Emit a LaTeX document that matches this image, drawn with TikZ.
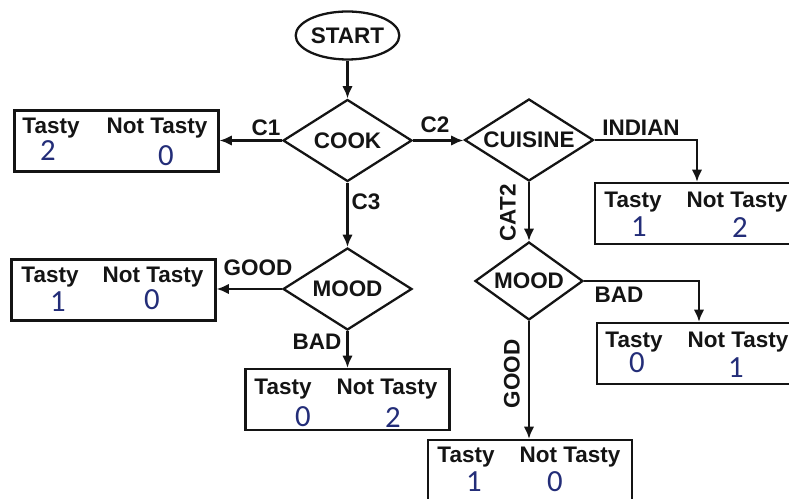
\documentclass[tikz,border=0pt]{standalone}
\usepackage{fontspec}
\setmainfont{Liberation Sans}
\newfontfamily\numfont{Carlito}
\usetikzlibrary{shapes.geometric,arrows.meta,positioning}

\definecolor{ink}{RGB}{20,20,20}
\definecolor{numblue}{RGB}{35,45,120}

\tikzset{
    decision/.style={draw=ink, diamond, line width=1.3pt, inner sep=0pt, aspect=1.57,
        minimum width=2.58cm, minimum height=1.64cm,
        font=\fontsize{12.8}{14}\selectfont\bfseries, text=ink},
    terminal/.style={draw=ink, ellipse, line width=1.3pt, inner sep=0pt,
        minimum width=2.02cm, minimum height=0.96cm,
        font=\fontsize{12.8}{14}\selectfont\bfseries, text=ink},
    tally/.style={draw=ink, rectangle, line width=1.3pt, inner sep=0pt,
        minimum width=4.08cm, minimum height=1.22cm},
    head/.style={inner sep=0pt, font=\fontsize{12.8}{14}\selectfont\bfseries, text=ink},
    count/.style={inner sep=0pt, font=\numfont\fontsize{17.5}{20}\selectfont, text=numblue},
    flow/.style={draw=ink, line width=1.3pt, -{Latex[length=7pt,width=6pt]}}
}

\begin{document}
\begin{tikzpicture}[x=0.02cm, y=-0.02cm]
        \useasboundingbox (0,0) rectangle (789,499);
        \clip (0,0) rectangle (789,499);

        % decisions
        \node[terminal] (start) at (347.5,35.5) {START};
        \node[decision] (cook) at (347.5,140.5) {COOK};
        \node[decision] (cuisine) at (529,140) {CUISINE};
        \node[decision] (mood1) at (347.5,289) {MOOD};
        \node[decision, minimum width=2.16cm, minimum height=1.56cm] (mood2) at (529,281) {MOOD};

        % result boxes
        \node[tally] (tally1) at (116.5,141) {};
        \node[tally] (tally2) at (113.5,290) {};
        \node[tally] (tally3) at (347.5,399.5) {};
        \node[tally] (tally4) at (697,213.5) {};
        \node[tally] (tally5) at (699,353.5) {};
        \node[tally] (tally6) at (530,470.5) {};

        \node[head] (t1) at (51,128) {Tasty};
        \node[head] (n1) at (157,128) {Not Tasty};
        \node[count] (t1v) at (48,151) {2};
        \node[count] (n1v) at (166,156) {0};

        \node[head] (t2) at (50,277) {Tasty};
        \node[head] (n2) at (153,277) {Not Tasty};
        \node[count] (t2v) at (58,302) {1};
        \node[count] (n2v) at (152,300) {0};

        \node[head] (t3) at (283,389) {Tasty};
        \node[head] (n3) at (387,389) {Not Tasty};
        \node[count] (t3v) at (303,417) {0};
        \node[count] (n3v) at (393,418) {2};

        \node[head] (t4) at (633,202) {Tasty};
        \node[head] (n4) at (737,202) {Not Tasty};
        \node[count] (t4v) at (639,227) {1};
        \node[count] (n4v) at (740,228) {2};

        \node[head] (t5) at (634,342) {Tasty};
        \node[head] (n5) at (738,342) {Not Tasty};
        \node[count] (t5v) at (637,363) {0};
        \node[count] (n5v) at (736,368) {1};

        \node[head] (t6) at (466,457) {Tasty};
        \node[head] (n6) at (570,457) {Not Tasty};
        \node[count] (t6v) at (474,482) {1};
        \node[count] (n6v) at (555,482) {0};

        % branches
        \draw[flow] (start) -- (cook);
        \draw[flow] (cook.west) -- (cook.west -| tally1.east);
        \draw[flow] (cook.east) -- (cook.east -| cuisine.west);
        \draw[flow] (cuisine.east) -| (tally4.north);
        \draw[flow] (cook.south) -- (mood1.north);
        \draw[flow] (mood1.west) -- (mood1.west -| tally2.east);
        \draw[flow] (mood1.south) -- (tally3.north);
        \draw[flow] (cuisine.south) -- (mood2.north);
        \draw[flow] (mood2.east) -| (tally5.north);
        \draw[flow] (mood2.south) -- (mood2.south |- tally6.north);

        \node[head] (c1) at (266,128) {C1};
        \node[head] (c2) at (435,125) {C2};
        \node[head] (c3) at (366,202) {C3};
        \node[head] (indian) at (641,128) {INDIAN};
        \node[head, rotate=90] (cat2) at (508,213) {CAT2};
        \node[head] (good1) at (258,268) {GOOD};
        \node[head] (bad1) at (317,342) {BAD};
        \node[head] (bad2) at (619,295) {BAD};
        \node[head, rotate=90] (good2) at (512,374) {GOOD};
\end{tikzpicture}
\end{document}
